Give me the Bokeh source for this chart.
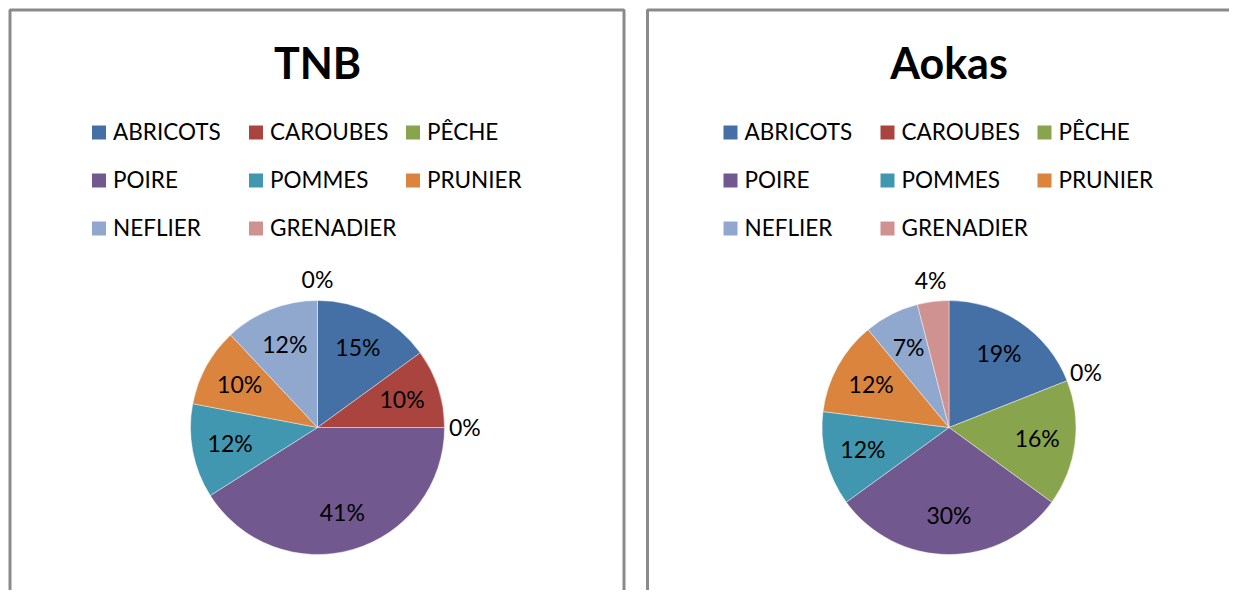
import math
from bokeh.plotting import figure
from bokeh.models import Range1d, ColumnDataSource
from bokeh.core.properties import value
from bokeh.embed import file_html
from bokeh.resources import INLINE

# ---------------- data ----------------
categories = ["ABRICOTS", "CAROUBES", "PÊCHE", "POIRE", "POMMES", "PRUNIER", "NEFLIER", "GRENADIER"]
colors = ["#4470A5", "#A9443F", "#88A44C", "#71588F", "#4197AF", "#DA843D", "#91A8CE", "#D09290"]
titles = ["TNB", "Aokas"]
tnb_values = [15, 10, 0, 41, 12, 10, 12, 0]
aokas_values = [19, 0, 16, 30, 12, 12, 7, 4]

FONT = "Lato"
W, H = 1229, 590

p = figure(width=W, height=H, output_backend="svg", toolbar_location=None,
           x_range=Range1d(0, W), y_range=Range1d(-H, 0),
           min_border=0, outline_line_color=None)
p.xaxis.visible = False
p.yaxis.visible = False
p.xgrid.visible = False
p.ygrid.visible = False
p.background_fill_color = "white"
p.border_fill_color = "white"

# panel frames (page-pixel coordinates, y negative downward)
panels = [dict(left=9.5, right=623.5, cx=317, cy=427), dict(left=647, right=1240, cx=948.5, cy=427)]
p.quad(left=[pn["left"] for pn in panels], right=[pn["right"] for pn in panels],
       top=[-9.5, -9.5], bottom=[-640, -640], fill_color=None,
       line_color="#8A8A8A", line_width=3)

R = 127
for pn, title, vals in zip(panels, titles, [tnb_values, aokas_values]):
    cx, cy = pn["cx"], -pn["cy"]
    total = float(sum(vals))
    # title
    p.text(x=[cx], y=[-62], text=[title], text_font=value(FONT), text_font_style="bold",
           text_font_size="43px", text_align="center", text_baseline="middle", text_color="black")
    # legend (3 columns)
    lx0 = cx - 226
    col_dx = [0, 157, 314]
    row_y = [132, 180, 228]
    sq_x, sq_y, tx, ty = [], [], [], []
    for i, cat in enumerate(categories):
        r, c = divmod(i, 3)
        sq_x.append(lx0 + col_dx[c] + 7.5)
        sq_y.append(-row_y[r])
        tx.append(lx0 + col_dx[c] + 21.5)
        ty.append(-row_y[r] + 1.5)
    p.rect(x=sq_x, y=sq_y, width=14, height=14, fill_color=colors, line_color=None)
    p.text(x=tx, y=ty, text=categories, text_font=value(FONT), text_font_size="22.5px",
           text_align="left", text_baseline="middle", text_color="black")
    # pie
    starts, ends, wcols = [], [], []
    lab_x, lab_y, lab_t = [], [], []
    cum = 0.0
    for v, col in zip(vals, colors):
        f0 = cum / total
        cum += v
        f1 = cum / total
        a0 = math.pi / 2 - 2 * math.pi * f0
        a1 = math.pi / 2 - 2 * math.pi * f1
        if v > 0:
            starts.append(a0); ends.append(a1); wcols.append(col)
        mid = (a0 + a1) / 2
        frac = v / total
        d = 0.70 * R if frac >= 0.05 else 1.16 * R
        lab_x.append(cx + d * math.cos(mid))
        lab_y.append(cy + d * math.sin(mid) + 1)
        lab_t.append(f"{round(frac * 100)}%")
    src = ColumnDataSource(dict(x=[cx] * len(starts), y=[cy] * len(starts),
                                s=starts, e=ends, c=wcols))
    p.wedge(x="x", y="y", radius=R, start_angle="s", end_angle="e", direction="clock",
            fill_color="c", line_color="white", line_width=0.6, line_alpha=0.7, source=src)
    p.text(x=lab_x, y=lab_y, text=lab_t, text_font=value(FONT), text_font_size="23px",
           text_align="center", text_baseline="middle", text_color="black")

open("out.html", "w").write(file_html(p, INLINE))
